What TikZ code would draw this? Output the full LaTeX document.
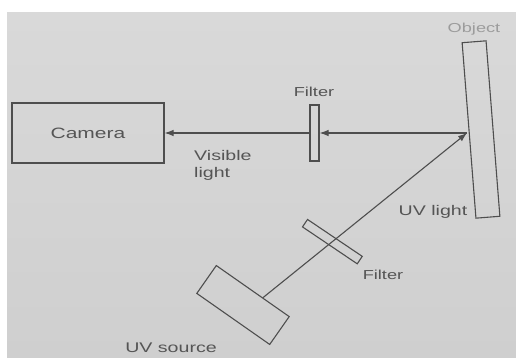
\documentclass[tikz,border=0pt]{standalone}
\usepackage{fontspec}
\setmainfont{Liberation Sans}[FakeStretch=1.4]
\usepackage{tikz}
\usepackage{xcolor}
\usetikzlibrary{positioning,arrows.meta,calc}
\definecolor{paper}{HTML}{CFCFCF}
\definecolor{paperhi}{HTML}{D9D9D9}
\definecolor{inkgrey}{HTML}{4E4E4E}
\definecolor{textgrey}{HTML}{555555}
\definecolor{fadegrey}{HTML}{9C9C9C}
\tikzset{
  box/.style={
    draw=inkgrey, line width=1.1pt, align=center, inner sep=0pt,
    font=\fontsize{15}{17}\selectfont, text=textgrey,
  },
  filt/.style ={box, minimum width=9pt},
  ray/.style  ={-{Latex[length=9pt,width=6.5pt]}, draw=inkgrey, line width=1.1pt},
  lbl/.style  ={font=\fontsize{14}{17}\selectfont, text=textgrey, inner sep=0pt},
  smalllbl/.style={lbl, font=\fontsize{13}{15}\selectfont},
}

\begin{document}
\begin{tikzpicture}[x=1pt, y=1pt]
\useasboundingbox (0,0) rectangle (516,358);

% ---------------------------------------------------------------- paper
\fill[white] (0,0) rectangle (516,358);
\shade[top color=paperhi, bottom color=paper] (7,0) rectangle (516,345);

% ---------------------------------------------------------------- camera side
\node[box, minimum width=152pt, minimum height=60pt] (cam) at (88,225) {Camera};
\node[filt, minimum height=56pt] (filtv) at (314.5,225) {};
\node[smalllbl] at (314,266) {Filter};
\node[lbl, align=left, anchor=north west] at (194,208) {Visible\\light};

% ---------------------------------------------------------------- object
\node[box, minimum width=24pt, minimum height=176pt, rotate=4.5] (obj) at (481,228.5) {};
\node[smalllbl, text=fadegrey] at (474,329) {Object};
\coordinate (hit) at (467,225);

% ---------------------------------------------------------------- uv source
\node[box, minimum width=89pt, minimum height=34pt, rotate=-35] (uvs) at (243,53) {};
\coordinate (uvout) at ($(uvs.north)!0.27!(uvs.north east)$);
\node[filt, minimum width=66pt, minimum height=9pt, rotate=-34] (filtu)
  at ($(uvout)!0.34!(hit)$) {};
\node[smalllbl] at (383,83) {Filter};
\node[lbl] at (171,10) {UV source};
\node[lbl] at (433,146) {UV light};

% ---------------------------------------------------------------- rays
\draw[ray] (uvout) -- (hit);
\draw[ray] (hit) -- (filtv.east);
\draw[ray] (filtv.west) -- (cam.east);

\end{tikzpicture}
\end{document}
